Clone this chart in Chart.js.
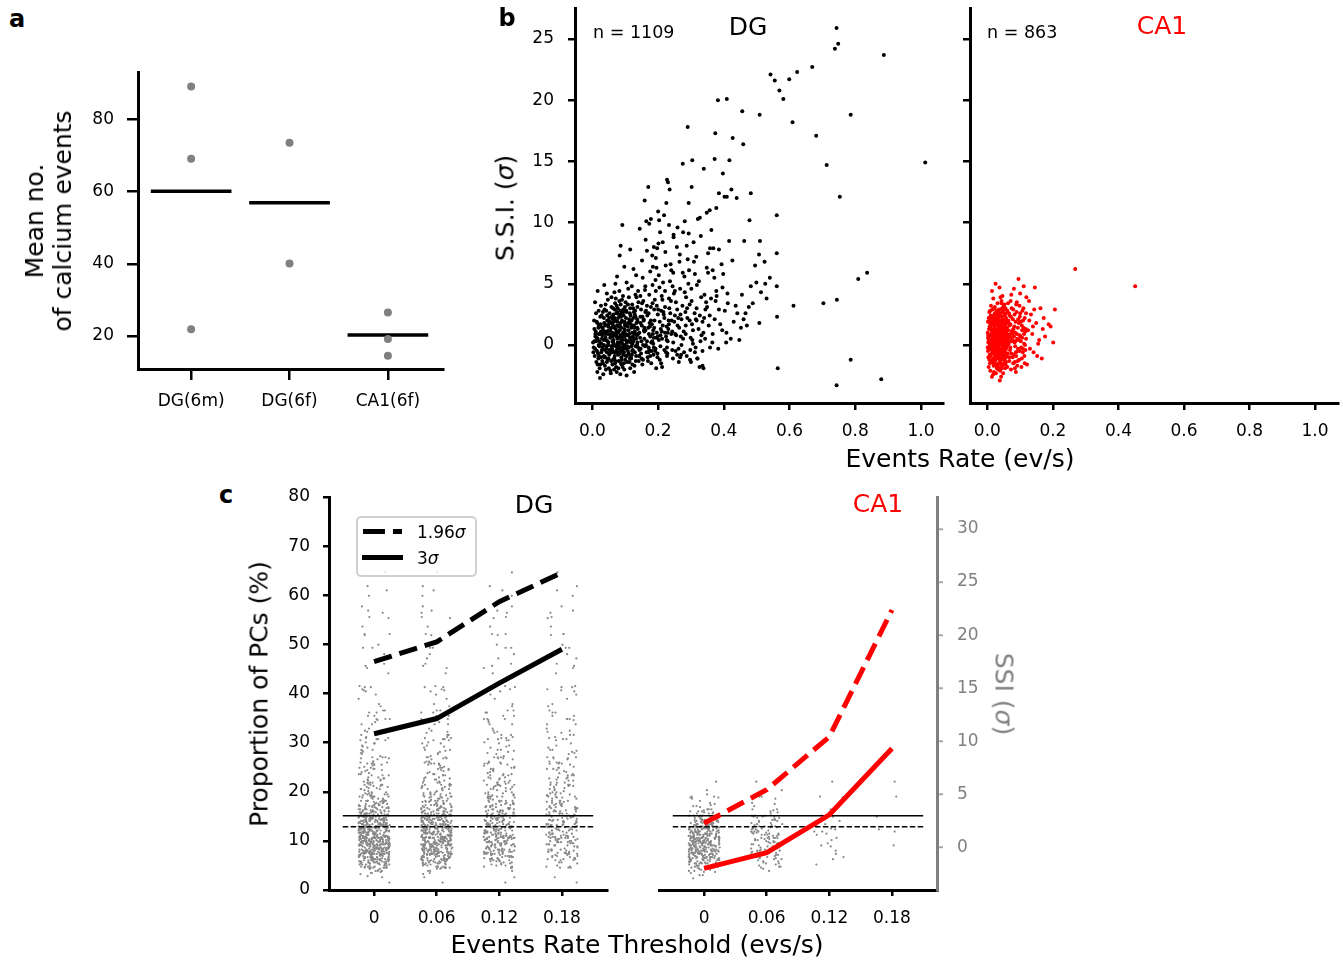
<!DOCTYPE html>
<html>
<head>
<meta charset="utf-8">
<script src="https://cdn.jsdelivr.net/npm/chart.js@4.4.1/dist/chart.umd.min.js"></script>
<style>
body { margin: 0; background: #fff; }
#fig { position: relative; width: 1343px; height: 960px; font-family: 'DejaVu Sans', sans-serif; color: #000; overflow: hidden; }
#fig canvas { position: absolute; }
.t { position: absolute; transform: translate(-50%, -50%); line-height: 1; white-space: nowrap; font-size: 25px; }
.l { position: absolute; transform: translate(0, -50%); line-height: 1; white-space: nowrap; font-size: 17.5px; }
.pl { font-weight: bold; font-size: 24px; }
.up { transform: translate(-50%, -50%) rotate(-90deg); }
.down { transform: translate(-50%, -50%) rotate(90deg); }
.bar { position: absolute; background: #000; height: 5px; }
</style>
</head>
<body>
<div id="fig">
  <canvas id="cA"></canvas>
  <canvas id="cB1"></canvas>
  <canvas id="cB2"></canvas>
  <canvas id="cC1"></canvas>
  <canvas id="cC2"></canvas>

  <div class="t pl" style="left:17px;top:19px">a</div>
  <div class="t pl" style="left:507px;top:18px">b</div>
  <div class="t pl" style="left:226px;top:495px">c</div>

  <div class="t up" style="left:49px;top:221px;line-height:28px;text-align:center">Mean no.<br>of calcium events</div>

  <div class="t" style="left:748px;top:26px">DG</div>
  <div class="t" style="left:1162px;top:25px;color:#f00">CA1</div>
  <div class="l" style="left:593px;top:33px">n = 1109</div>
  <div class="l" style="left:987px;top:33px">n = 863</div>
  <div class="t up" style="left:505px;top:208px">S.S.I. (<i>σ</i>)</div>
  <div class="t" style="left:960px;top:458px">Events Rate (ev/s)</div>

  <div class="t" style="left:534px;top:504px">DG</div>
  <div class="t" style="left:878px;top:503px;color:#f00">CA1</div>
  <div class="t up" style="left:259px;top:694px">Proportion of PCs (%)</div>
  <div class="t" style="left:637px;top:944px">Events Rate Threshold (evs/s)</div>
  <div class="t down" style="left:1004px;top:694px;color:#808080">SSI (<i>σ</i>)</div>

  <div style="position:absolute;left:356px;top:516px;width:117px;height:57px;border:2px solid #d0d0d0;border-radius:5px;background:rgba(255,255,255,0.8)"></div>
  <div class="bar" style="left:363px;top:529px;width:22px"></div>
  <div class="bar" style="left:393px;top:529px;width:9px"></div>
  <div class="bar" style="left:362px;top:555px;width:41px"></div>
  <div class="l" style="left:417px;top:532px;font-size:17px">1.96<i>σ</i></div>
  <div class="l" style="left:417px;top:558px;font-size:17px">3<i>σ</i></div>
</div>

<script>
// a - mean no. of calcium events per animal
const groupsA = ['DG(6m)', 'DG(6f)', 'CA1(6f)']
const animalsA = [[89.1, 69.1, 21.9], [73.5, 40.1], [26.5, 19.2, 14.5]]
const meansA = [60.1, 56.9, 20.3]
const yTicksA = [20, 40, 60, 80]

// b - events rate (ev/s) vs S.S.I. (sigma), one pair per cell
const rateTicks = [0, 0.2, 0.4, 0.6, 0.8, 1.0]
const rateLabels = ['0.0', '0.2', '0.4', '0.6', '0.8', '1.0']
const ssiTicksB = [0, 5, 10, 15, 20, 25]

const dgCells = [
  [0.004,-0.2],[0.031,1.4],[0.018,-1.1],[0.052,2.6],[0.009,0.7],[0.044,-0.6],[0.026,3.2],[0.061,0.3],[0.013,1.9],[0.038,-1.7],
  [0.022,0.9],[0.057,-1.3],[0.007,-0.9],[0.035,2.2],[0.049,0.0],[0.016,4.4],[0.029,-0.4],[0.042,1.1],[0.055,-2.1],[0.011,0.3],
  [0.033,-2.4],[0.047,3.7],[0.020,1.6],[0.002,0.2],[0.059,1.8],[0.024,-1.6],[0.040,0.6],[0.014,-0.5],[0.051,-0.8],[0.036,4.9],
  [0.027,0.1],[0.045,2.0],[0.006,1.3],[0.053,0.9],[0.019,2.8],[0.039,-1.0],[0.031,-0.2],[0.058,3.1],[0.012,-1.4],[0.048,1.5],
  [0.023,-2.7],[0.043,-0.3],[0.016,0.5],[0.034,1.0],[0.060,-0.6],[0.028,2.4],[0.050,-1.9],[0.008,3.5],[0.041,0.4],[0.017,-0.7],
  [0.054,1.2],[0.030,0.8],[0.046,-1.2],[0.021,-0.1],[0.037,2.9],[0.003,-0.6],[0.057,0.7],[0.025,1.7],[0.044,4.2],[0.015,-2.2],
  [0.032,-1.5],[0.052,-0.4],[0.010,1.1],[0.040,3.3],[0.026,-1.0],[0.048,0.2],[0.019,0.9],[0.059,2.3],[0.035,-0.9],[0.005,2.0],
  [0.064,0.4],[0.118,-1.1],[0.087,2.3],[0.135,0.8],[0.072,-1.8],[0.101,3.5],[0.093,-0.3],[0.126,1.6],[0.068,2.9],[0.110,-0.7],
  [0.079,1.0],[0.131,4.1],[0.097,-2.0],[0.062,-0.5],[0.122,0.1],[0.085,1.8],[0.106,-1.4],[0.075,5.6],[0.139,-0.2],[0.090,0.6],
  [0.114,2.6],[0.066,1.4],[0.128,-1.7],[0.083,-0.6],[0.099,1.2],[0.071,3.8],[0.117,0.4],[0.136,2.1],[0.088,-1.0],[0.104,-2.5],
  [0.077,0.2],[0.124,3.0],[0.095,0.9],[0.063,-1.2],[0.109,4.6],[0.081,2.5],[0.133,-0.9],[0.069,0.0],[0.113,1.9],[0.092,-0.4],
  [0.127,0.5],[0.074,-2.2],[0.102,2.2],[0.086,3.3],[0.138,1.3],[0.065,0.8],[0.119,-0.1],[0.096,-1.5],[0.080,1.5],[0.108,0.3],
  [0.070,2.0],[0.130,2.8],[0.091,0.1],[0.115,-1.9],[0.078,-0.8],[0.125,6.2],[0.100,1.7],[0.067,4.3],[0.121,1.0],[0.084,-0.2],
  [0.111,3.9],[0.094,2.7],[0.137,0.2],[0.073,1.1],[0.105,-0.9],[0.089,-1.6],[0.129,-0.6],[0.061,1.7],[0.116,2.4],[0.098,0.7],
  [0.082,3.6],[0.134,1.8],[0.076,0.5],[0.103,-0.3],[0.120,4.8],[0.088,1.4],[0.068,-0.6],[0.112,0.9],[0.093,4.0],[0.132,-1.3],
  [0.107,1.5],[0.071,-0.1],[0.126,2.7],[0.085,-2.4],[0.099,3.1],[0.064,2.5],[0.118,0.6],[0.080,-1.3],[0.140,3.5],[0.095,-0.8],
  [0.075,1.6],[0.123,-0.4],[0.090,2.0],[0.110,1.2],[0.066,-2.0],[0.136,0.0],[0.101,0.4],[0.083,7.3],[0.127,1.4],[0.097,6.4],
  [0.072,0.9],[0.114,-1.1],[0.087,0.3],[0.131,2.3],[0.104,5.1],[0.078,2.2],[0.121,3.3],[0.092,1.9],[0.069,-1.5],[0.108,-0.5],
  [0.086,8.1],[0.124,0.3],[0.063,3.0],[0.100,-1.2],[0.117,1.7],[0.081,0.1],[0.139,4.4],[0.094,-0.1],[0.074,3.2],[0.129,0.9],
  [0.103,2.8],[0.070,5.0],[0.115,7.8],[0.089,2.6],[0.133,5.7],[0.077,-0.3],[0.106,0.8],[0.122,-1.6],[0.091,9.8],[0.065,1.9],
  [0.047,0.9],[0.083,1.2],[0.121,-0.5],[0.016,-1.6],[0.062,2.1],[0.105,0.2],[0.158,1.4],[0.034,0.4],[0.092,-1.8],[0.137,3.1],
  [0.058,-0.1],[0.011,2.6],[0.074,0.7],[0.119,2.0],[0.041,-2.0],[0.099,1.6],[0.187,0.6],[0.026,1.1],[0.066,-1.1],[0.143,-0.4],
  [0.088,0.3],[0.052,1.9],[0.129,1.1],[0.019,0.0],[0.077,3.0],[0.113,-1.4],[0.171,2.6],[0.037,-1.0],[0.095,2.4],[0.061,-1.6],
  [0.149,0.3],[0.008,-0.3],[0.084,-0.7],[0.124,2.2],[0.045,2.4],[0.102,-0.9],[0.067,0.9],[0.196,3.2],[0.029,0.5],[0.133,0.5],
  [0.071,1.3],[0.056,-2.3],[0.109,1.8],[0.022,-1.9],[0.090,3.7],[0.154,-1.2],[0.039,1.6],[0.081,-0.1],[0.117,0.2],[0.064,0.0],
  [0.176,-0.9],[0.013,0.6],[0.098,0.0],[0.049,-1.1],[0.138,1.9],[0.073,2.6],[0.032,2.7],[0.111,-0.2],[0.086,0.8],[0.221,1.0],
  [0.054,0.6],[0.127,-2.2],[0.018,1.4],[0.093,1.0],[0.068,-0.9],[0.161,1.2],[0.043,-0.1],[0.104,2.7],[0.079,-1.9],[0.146,2.3],
  [0.027,-0.6],[0.065,1.5],[0.118,1.4],[0.036,1.8],[0.089,-1.2],[0.181,1.7],[0.058,3.9],[0.132,-0.1],[0.074,-0.4],[0.009,0.9],
  [0.101,0.9],[0.046,0.3],[0.123,0.7],[0.061,1.0],[0.209,2.8],[0.085,2.8],[0.024,2.3],[0.114,0.6],[0.050,1.2],[0.166,0.3],
  [0.038,-0.4],[0.096,-0.6],[0.070,-1.3],[0.141,-1.3],[0.015,1.8],[0.081,0.6],[0.108,3.3],[0.053,-0.7],[0.134,3.9],[0.030,-1.3],
  [0.076,1.9],[0.192,-0.3],[0.063,0.2],[0.120,-0.8],[0.042,2.8],[0.087,-0.4],[0.156,2.0],[0.021,0.3],[0.097,1.3],[0.069,3.4],
  [0.112,2.1],[0.035,0.0],[0.148,-0.7],[0.082,4.4],[0.057,1.4],[0.126,1.5],[0.006,0.3],[0.091,0.4],[0.044,-1.4],[0.173,-0.4],
  [0.067,2.2],[0.106,-0.1],[0.028,0.9],[0.139,0.9],[0.078,0.0],[0.051,2.2],[0.117,-0.9],[0.094,2.9],[0.184,0.9],[0.060,-0.3],
  [0.033,1.2],[0.129,2.5],[0.072,-0.6],[0.100,-0.2],[0.048,1.7],[0.160,-0.1],[0.083,1.6],[0.020,-0.9],[0.115,3.0],[0.062,0.7],
  [0.224,-0.6],[0.040,0.9],[0.098,1.9],[0.136,1.4],[0.075,2.7],[0.055,-0.5],[0.110,0.3],[0.025,1.5],[0.087,-1.5],[0.151,3.4],
  [0.145,0.6],[0.198,-1.0],[0.167,2.4],[0.231,1.3],[0.152,-1.6],[0.213,3.7],[0.179,0.2],[0.243,-0.4],[0.160,4.5],[0.205,1.9],
  [0.186,-0.8],[0.224,0.7],[0.148,2.9],[0.192,5.3],[0.171,-0.2],[0.237,2.6],[0.157,1.2],[0.209,-1.5],[0.183,3.4],[0.248,4.2],
  [0.163,0.0],[0.219,2.2],[0.142,-0.9],[0.196,1.0],[0.176,6.0],[0.228,-0.7],[0.155,3.6],[0.202,0.4],[0.189,2.0],[0.240,0.9],
  [0.169,-1.3],[0.215,5.1],[0.150,1.6],[0.181,-0.5],[0.234,3.0],[0.161,2.7],[0.207,-0.1],[0.193,7.1],[0.146,4.0],[0.226,1.5],
  [0.174,1.8],[0.245,-1.1],[0.158,0.5],[0.200,2.9],[0.185,0.1],[0.221,4.4],[0.165,-0.6],[0.211,1.1],[0.143,1.0],[0.238,6.6],
  [0.178,3.1],[0.194,-1.9],[0.153,5.5],[0.229,0.3],[0.172,0.9],[0.204,4.7],[0.188,1.4],[0.147,-0.3],[0.217,2.5],[0.162,8.6],
  [0.199,0.7],[0.241,2.0],[0.168,-1.0],[0.183,4.9],[0.227,-0.2],[0.156,2.1],[0.212,0.5],[0.191,-0.5],[0.233,3.8],[0.175,1.5],
  [0.151,6.9],[0.206,9.2],[0.164,10.1],[0.222,7.6],[0.187,8.0],[0.246,5.9],[0.170,12.9],[0.200,10.9],[0.144,9.5],[0.225,11.6],
  [0.182,7.3],[0.235,12.7],[0.159,11.8],[0.195,6.3],[0.214,8.4],[0.173,9.9],[0.230,13.3],[0.203,10.2],[0.247,9.0],[0.166,7.7],
  [0.152,2.3],[0.187,-0.2],[0.221,3.1],[0.264,1.4],[0.298,-0.4],[0.173,4.1],[0.246,0.2],[0.311,2.6],[0.205,-1.2],[0.338,1.0],
  [0.158,1.1],[0.232,2.0],[0.281,4.3],[0.195,0.6],[0.349,3.1],[0.267,-1.0],[0.214,1.6],[0.179,-1.5],[0.304,0.4],[0.254,3.5],
  [0.166,3.2],[0.289,2.2],[0.227,-0.9],[0.372,2.1],[0.199,2.5],[0.318,4.9],[0.243,1.1],[0.147,1.8],[0.276,0.5],[0.335,-0.5],
  [0.182,0.3],[0.258,2.9],[0.395,1.2],[0.211,4.0],[0.303,1.7],[0.171,-0.6],[0.236,5.2],[0.327,2.4],[0.262,-0.3],[0.190,3.7],
  [0.284,0.9],[0.154,0.0],[0.361,3.8],[0.219,-0.4],[0.296,3.3],[0.249,1.9],[0.178,2.0],[0.343,0.5],[0.207,0.8],[0.271,2.1],
  [0.314,-0.2],[0.163,2.8],[0.239,3.6],[0.385,2.9],[0.198,-0.7],[0.292,5.0],[0.226,0.4],[0.354,1.6],[0.185,1.2],[0.267,4.6],
  [0.323,1.3],[0.150,-1.1],[0.216,2.7],[0.279,-0.6],[0.408,1.0],[0.193,4.4],[0.252,0.9],[0.331,3.9],[0.170,1.4],[0.306,0.1],
  [0.233,1.7],[0.288,3.0],[0.202,5.7],[0.365,0.2],[0.258,-0.8],[0.176,0.7],[0.317,2.0],[0.244,4.8],[0.212,-1.8],[0.377,4.4],
  [0.269,0.7],[0.188,2.9],[0.340,2.2],[0.229,1.0],[0.297,-1.2],[0.161,4.8],[0.251,2.4],[0.312,5.8],[0.208,1.3],[0.284,1.6],
  [0.223,6.5],[0.266,7.4],[0.309,6.8],[0.184,6.4],[0.352,5.9],[0.247,8.8],[0.293,9.1],[0.197,7.9],[0.330,8.9],[0.275,5.9],
  [0.218,10.6],[0.259,9.6],[0.316,7.2],[0.240,6.1],[0.348,10.8],[0.201,8.3],[0.287,8.1],[0.233,9.8],[0.366,6.1],[0.178,10.3],
  [0.255,0.8],[0.312,-0.6],[0.274,3.2],[0.389,1.7],[0.263,-1.4],[0.341,4.1],[0.296,2.0],[0.421,0.5],[0.280,5.6],[0.358,-0.2],
  [0.306,1.2],[0.268,2.5],[0.375,3.6],[0.251,4.4],[0.329,0.3],[0.403,2.8],[0.287,-0.9],[0.348,6.3],[0.259,1.6],[0.317,3.0],
  [0.396,4.7],[0.271,0.0],[0.335,1.9],[0.290,7.0],[0.366,0.9],[0.253,-0.5],[0.301,4.6],[0.412,3.4],[0.278,1.1],[0.324,5.2],
  [0.357,2.4],[0.265,6.8],[0.383,-0.3],[0.299,0.6],[0.344,2.9],[0.430,1.9],[0.285,3.9],[0.319,-1.1],[0.261,2.2],[0.371,5.5],
  [0.338,-1.9],[0.308,8.4],[0.393,6.6],[0.276,9.2],[0.352,7.5],[0.416,8.5],[0.294,6.1],[0.362,9.4],[0.257,8.0],[0.327,10.4],
  [0.378,4.0],[0.283,2.7],[0.346,3.5],[0.407,0.2],[0.315,2.1],[0.270,-0.8],[0.398,5.8],[0.332,0.8],[0.302,3.6],[0.441,2.6],
  [0.281,10.1],[0.321,10.3],[0.357,11.0],[0.293,11.6],[0.377,11.2],[0.402,12.1],[0.385,12.4],[0.339,14.4],[0.423,12.7],[0.409,12.1],
  [0.326,-1.8],[0.335,-1.7],[0.320,-1.1],[0.300,-1.4],[0.411,4.2],[0.436,3.2],[0.368,7.9],[0.385,7.8],[0.358,7.9],[0.426,6.9],
  [0.462,8.5],[0.510,8.5],[0.478,10.2],[0.495,6.5],[0.524,6.8],[0.499,5.1],[0.526,5.0],[0.540,5.5],[0.530,3.8],[0.513,4.3],
  [0.476,3.1],[0.447,0.4],[0.466,2.6],[0.455,4.1],[0.470,1.6],[0.488,3.4],[0.460,2.1],[0.482,4.8],[0.507,7.4],[0.561,7.5],
  [0.561,4.8],[0.508,1.8],[0.562,2.3],[0.561,10.6],[0.459,16.4],[0.456,19.1],[0.509,18.8],[0.439,12.0],[0.482,12.4],[0.452,1.4],
  [0.743,25.9],[0.748,24.6],[0.738,24.2],[0.887,23.7],[0.669,22.7],[0.623,22.3],[0.599,21.7],[0.542,22.1],[0.555,21.6],[0.569,20.8],
  [0.581,20.1],[0.409,20.1],[0.382,20.0],[0.786,18.8],[0.609,18.2],[0.290,17.8],[0.374,17.3],[0.681,17.1],[0.427,16.9],[0.275,14.8],
  [0.304,15.1],[0.372,15.2],[0.417,15.1],[0.713,14.7],[1.013,14.9],[0.397,14.0],[0.227,13.5],[0.753,12.1],[0.836,5.9],[0.809,5.4],
  [0.612,3.2],[0.703,3.4],[0.744,3.7],[0.564,-1.9],[0.786,-1.2],[0.743,-3.3],[0.879,-2.8],[0.302,12.9]
]

const ca1Cells = [
  [0.003,0.2],[0.027,-1.1],[0.041,1.6],[0.012,0.9],[0.055,-0.4],[0.034,2.3],[0.019,-1.7],[0.048,0.5],[0.008,1.8],[0.038,-0.6],
  [0.023,3.1],[0.051,1.2],[0.015,-0.3],[0.044,-1.9],[0.030,0.7],[0.058,2.0],[0.006,-1.2],[0.036,1.4],[0.021,0.0],[0.047,2.7],
  [0.010,2.4],[0.032,-0.8],[0.053,0.1],[0.017,1.1],[0.043,3.6],[0.026,-2.3],[0.002,-0.5],[0.039,0.3],[0.057,-1.4],[0.014,4.4],
  [0.029,1.9],[0.050,-0.9],[0.005,1.3],[0.045,0.8],[0.020,-1.5],[0.035,2.9],[0.011,-0.1],[0.056,1.7],[0.024,0.6],[0.042,-2.6],
  [0.016,2.2],[0.037,0.0],[0.052,3.3],[0.004,-1.8],[0.031,1.0],[0.046,-0.2],[0.022,1.5],[0.059,0.4],[0.009,2.8],[0.040,-1.3],
  [0.028,-0.4],[0.054,2.5],[0.013,0.4],[0.033,-2.0],[0.049,1.9],[0.018,3.8],[0.044,-0.7],[0.001,1.0],[0.025,2.0],[0.057,-1.0],
  [0.035,0.9],[0.007,-0.8],[0.048,1.4],[0.019,0.2],[0.041,2.6],[0.030,-1.6],[0.053,0.6],[0.011,3.2],[0.027,-0.2],[0.046,4.0],
  [0.038,-2.9],[0.016,1.6],[0.051,-0.6],[0.023,2.6],[0.043,0.1],[0.004,2.2],[0.034,-0.9],[0.058,1.1],[0.020,-2.2],[0.031,3.4],
  [0.049,0.3],[0.012,-1.4],[0.039,1.2],[0.026,0.5],[0.055,3.0],[0.008,0.1],[0.045,-1.7],[0.017,2.0],[0.036,-0.3],[0.060,0.8],
  [0.021,1.3],[0.042,1.8],[0.003,-1.0],[0.032,2.1],[0.050,-1.2],[0.014,-0.7],[0.028,0.9],[0.047,0.0],[0.010,1.5],[0.037,4.7],
  [0.056,-0.1],[0.024,-1.3],[0.040,0.5],[0.006,2.7],[0.033,1.6],[0.052,1.0],[0.018,-0.4],[0.044,2.3],[0.029,-1.9],[0.013,1.9],
  [0.035,-1.5],[0.057,2.2],[0.022,0.3],[0.046,-0.5],[0.009,-2.1],[0.030,2.5],[0.042,-0.9],[0.015,0.7],[0.053,1.5],[0.025,5.0],
  [0.039,2.0],[0.002,0.6],[0.048,-2.3],[0.027,1.2],[0.019,-0.6],[0.054,0.2],[0.033,0.4],[0.011,-0.3],[0.043,1.1],[0.059,-0.7],
  [0.031,-0.1],[0.016,2.9],[0.050,0.9],[0.024,-0.9],[0.045,3.0],[0.007,0.3],[0.037,1.7],[0.020,1.0],[0.055,-1.6],[0.041,-0.4],
  [0.028,2.8],[0.012,1.2],[0.051,2.9],[0.034,0.0],[0.004,-0.3],[0.047,1.6],[0.023,-0.2],[0.038,-1.2],[0.058,-0.2],[0.017,-1.1],
  [0.043,0.6],[0.026,1.7],[0.009,0.8],[0.052,-1.5],[0.032,0.8],[0.014,-2.6],[0.040,3.9],[0.021,2.3],[0.049,-0.3],[0.035,1.3],
  [0.018,0.5],[0.042,-0.5],[0.007,1.5],[0.031,2.2],[0.055,0.7],[0.024,-1.2],[0.048,1.8],[0.013,-0.4],[0.037,0.2],[0.060,1.4],
  [0.021,2.5],[0.045,-1.1],[0.003,0.8],[0.029,-0.6],[0.052,2.4],[0.016,1.0],[0.039,-2.1],[0.011,0.0],[0.034,1.5],[0.057,-0.3],
  [0.026,0.4],[0.050,3.2],[0.008,-1.5],[0.041,0.9],[0.019,1.7],[0.036,-1.0],[0.053,-0.8],[0.014,2.3],[0.030,0.1],[0.047,-0.1],
  [0.022,-0.8],[0.044,1.2],[0.005,0.5],[0.033,2.7],[0.058,0.9],[0.027,-1.7],[0.049,0.2],[0.010,-0.9],[0.038,1.9],[0.017,-0.2],
  [0.054,-1.9],[0.025,1.3],[0.043,3.4],[0.002,1.9],[0.032,-0.4],[0.051,0.5],[0.020,0.7],[0.040,-0.7],[0.012,1.7],[0.056,2.6],
  [0.028,1.8],[0.046,0.6],[0.015,-1.3],[0.035,0.6],[0.059,-0.9],[0.023,0.9],[0.039,2.4],[0.006,-0.1],[0.048,-1.0],[0.031,0.3],
  [0.018,-2.4],[0.052,1.3],[0.036,1.1],[0.009,2.1],[0.044,0.0],[0.027,2.1],[0.054,-0.2],[0.013,0.2],[0.041,-1.5],[0.024,1.0],
  [0.033,-1.1],[0.050,2.0],[0.004,0.4],[0.037,-0.5],[0.020,3.0],[0.057,0.3],[0.029,0.6],[0.045,1.5],[0.016,-0.6],[0.034,1.9],
  [0.011,1.3],[0.047,-0.6],[0.026,-0.1],[0.042,2.9],[0.001,-0.2],[0.055,1.0],[0.030,-0.9],[0.019,1.9],[0.038,0.7],[0.053,-1.2],
  [0.023,-0.5],[0.049,1.0],[0.008,0.2],[0.035,-1.8],[0.058,1.9],[0.014,0.8],[0.043,0.4],[0.028,-0.3],[0.046,2.1],[0.021,-1.4],
  [0.064,0.5],[0.097,-1.2],[0.078,2.1],[0.112,0.9],[0.069,-0.4],[0.088,3.3],[0.105,1.6],[0.072,-2.0],[0.118,2.6],[0.083,0.2],
  [0.093,1.4],[0.061,2.8],[0.108,-0.6],[0.076,0.9],[0.100,4.2],[0.067,-1.3],[0.115,0.0],[0.086,1.9],[0.071,3.6],[0.103,-0.2],
  [0.080,-0.8],[0.095,5.4],[0.063,1.2],[0.110,3.0],[0.074,0.3],[0.091,-1.7],[0.117,1.3],[0.066,0.8],[0.099,2.3],[0.085,-0.1],
  [0.070,1.7],[0.106,0.6],[0.089,2.7],[0.062,-0.7],[0.114,-1.5],[0.081,4.6],[0.096,0.4],[0.077,-1.0],[0.102,1.9],[0.068,2.4],
  [0.092,-0.5],[0.119,3.9],[0.075,1.1],[0.087,-2.2],[0.109,2.0],[0.065,0.1],[0.098,3.2],[0.082,1.5],[0.113,-0.9],[0.073,4.1],
  [0.101,0.7],[0.079,2.9],[0.094,-0.3],[0.116,1.1],[0.068,1.6],[0.090,0.9],[0.107,2.8],[0.084,-1.4],[0.063,3.4],[0.111,4.8],
  [0.071,0.6],[0.088,-0.9],[0.065,1.8],[0.102,0.3],[0.079,-1.5],[0.094,2.1],[0.062,0.0],[0.110,1.4],[0.083,2.5],[0.070,-0.2],
  [0.098,-0.5],[0.076,1.2],[0.114,2.2],[0.067,-1.0],[0.091,0.5],[0.105,-1.1],[0.074,3.0],[0.085,1.0],[0.061,-1.8],[0.118,0.5],
  [0.096,1.8],[0.069,0.9],[0.108,-0.3],[0.081,0.7],[0.064,2.0],[0.100,2.6],[0.087,-0.6],[0.073,-0.7],[0.112,0.1],[0.090,3.5],
  [0.077,0.4],[0.106,1.2],[0.066,2.6],[0.093,-1.3],[0.080,1.3],[0.116,-0.4],[0.063,0.3],[0.099,0.8],[0.084,-1.9],[0.072,2.3],
  [0.086,0.3],[0.104,-1.8],
  [0.124,1.2],[0.141,-0.6],[0.133,2.5],[0.158,0.4],[0.127,3.6],[0.149,1.8],[0.166,-1.1],[0.137,0.9],[0.172,2.2],[0.121,-1.6],
  [0.145,4.7],[0.155,0.1],[0.130,-0.3],[0.162,3.0],[0.139,1.5],[0.176,0.7],[0.128,2.0],[0.152,-0.9],[0.169,1.3],[0.143,2.9],
  [0.187,1.7],[0.193,1.5],[0.201,0.2],[0.206,2.9],[0.268,6.2],[0.451,4.8]
]

// c - proportion of place cells (%) by events rate threshold
const thresholds = [0, 0.06, 0.12, 0.18]
const thrLabels = ['0', '0.06', '0.12', '0.18']
const propTicks = [0, 10, 20, 30, 40, 50, 60, 70, 80]
const ssiTicksC = [0, 5, 10, 15, 20, 25, 30]
const dgProp196 = [46.5, 50.5, 58.7, 64.6]
const dgProp3 = [31.8, 34.9, 42.1, 49.0]
const ca1Prop196 = [13.6, 20.4, 31.2, 57.0]
const ca1Prop3 = [4.4, 7.6, 15.3, 28.8]
const sigmaCut = [3, 1.96]

Chart.defaults.font.family = "'DejaVu Sans', sans-serif"
Chart.defaults.font.size = 17
Chart.defaults.color = '#000'

function axis(o) {
  const col = o.color || '#000'
  const shown = o.show !== false
  return {
    type: 'linear', position: o.pos, min: o.min, max: o.max, bounds: 'data',
    display: shown,
    afterBuildTicks: s => { s.ticks = o.ticks.map(v => ({ value: v })) },
    afterFit: s => {
      if (shown) {
        if (s.isHorizontal()) s.height = o.size; else s.width = o.size
      }
      // no extra room for labels hanging over the ends
      s.paddingTop = s.paddingBottom = s.paddingLeft = s.paddingRight = 0
    },
    ticks: {
      autoSkip: false, maxRotation: 0, minRotation: 0, padding: o.pad, color: col,
      callback: (v, i) => o.labels ? o.labels[i] : String(v)
    },
    grid: { drawOnChartArea: false, tickLength: o.tick, tickWidth: o.tickW || 2.5, tickColor: o.tickColor || col, lineWidth: 2.5 },
    border: { display: true, width: 3, color: col }
  }
}

// canvas placed so the plot area lands on the given pixel box
function build(id, area, m, pad, scales, datasets) {
  const c = document.getElementById(id)
  c.width = area.r - area.l + m.l + m.r
  c.height = area.b - area.t + m.t + m.b
  c.style.left = (area.l - m.l) + 'px'
  c.style.top = (area.t - m.t) + 'px'
  return new Chart(c, {
    type: 'scatter',
    data: { datasets },
    options: {
      responsive: false, animation: false, devicePixelRatio: 1, events: [],
      layout: { padding: pad, autoPadding: false },
      plugins: { legend: { display: false }, tooltip: { enabled: false } },
      scales
    }
  })
}

const dots = (data, color, r, yAxisID) => ({
  data, yAxisID: yAxisID || 'y', pointRadius: r, pointHoverRadius: r,
  pointBackgroundColor: color, backgroundColor: color, pointBorderWidth: 0, borderWidth: 0
})
const line = (data, color, w, dash, yAxisID) => ({
  data, yAxisID: yAxisID || 'y', showLine: true, borderColor: color, borderWidth: w,
  borderDash: dash || [], pointRadius: 0, pointHoverRadius: 0, tension: 0
})

// ---- a
build('cA', { l: 138, t: 72, r: 443, b: 369 }, { l: 80, t: 10, r: 10, b: 50 },
  { left: 0, top: 10, right: 10, bottom: 0 },
  {
    x: axis({ pos: 'bottom', min: -0.54, max: 2.56, ticks: [0, 1, 2], labels: groupsA, size: 50, tick: 11, pad: 11 }),
    y: axis({ pos: 'left', min: 10.86, max: 93.1, ticks: yTicksA, size: 80, tick: 11, pad: 13 })
  },
  [
    dots(animalsA.flatMap((vals, i) => vals.map(v => ({ x: i, y: v }))), '#808080', 4),
    ...meansA.map((m, i) => line([{ x: i - 0.41, y: m }, { x: i + 0.41, y: m }], '#000', 3.5))
  ])

// ---- b
const scB = (hideLabels, xMax) => ({
  x: axis({ pos: 'bottom', min: -0.053, max: xMax, ticks: rateTicks, labels: rateLabels, size: 50, tick: 7, pad: 11 }),
  y: axis({ pos: 'left', min: -4.74, max: 27.53, ticks: ssiTicksB, labels: hideLabels ? ssiTicksB.map(() => '') : null, size: hideLabels ? 20 : 70, tick: 7, pad: 14 })
})
build('cB1', { l: 575, t: 8, r: 943, b: 403 }, { l: 70, t: 8, r: 8, b: 50 },
  { left: 0, top: 8, right: 8, bottom: 0 }, scB(false, 1.067),
  [dots(dgCells.map(([r, s]) => ({ x: r, y: s })), '#000', 2)])
build('cB2', { l: 970, t: 8, r: 1338, b: 403 }, { l: 20, t: 8, r: 5, b: 50 },
  { left: 0, top: 8, right: 5, bottom: 0 }, scB(true, 1.07),
  [dots(ca1Cells.map(([r, s]) => ({ x: r, y: s })), '#f00', 2)])

// ---- c
// cells above each threshold, spread sideways by a fixed integer hash of their index
function spread(n) {
  n = Math.imul(n ^ (n >>> 16), 0x45d9f3b)
  n = Math.imul(n ^ (n >>> 16), 0x45d9f3b)
  n = n ^ (n >>> 16)
  return ((n >>> 0) / 4294967296 - 0.5) * 0.5
}
function strips(cells) {
  const pts = []
  thresholds.forEach((t, k) => {
    cells.forEach(([r, s], i) => {
      if (r >= t) pts.push({ x: k + spread(i * 4 + k + 7), y: s })
    })
  })
  return pts
}
const profile = vals => vals.map((v, k) => ({ x: k, y: v }))
const cutLines = () => [
  line([{ x: -0.5, y: sigmaCut[0] }, { x: 3.5, y: sigmaCut[0] }], '#000', 1.5, [], 'y2'),
  line([{ x: -0.5, y: sigmaCut[1] }, { x: 3.5, y: sigmaCut[1] }], '#000', 1.5, [5.5, 2.4], 'y2')
]
const scC = (dg) => ({
  x: axis({ pos: 'bottom', min: -0.72, max: 3.72, ticks: [0, 1, 2, 3], labels: thrLabels, size: 50, tick: 6, pad: 12 }),
  y: axis({ pos: 'left', min: 0, max: 80, ticks: propTicks, size: 70, tick: 6, pad: 13, show: dg }),
  y2: axis({ pos: 'right', min: -4, max: 33, ticks: ssiTicksC, size: 60, tick: 6, pad: 14, show: !dg,
    color: '#808080', tickColor: '#a8a8a8', tickW: 2 })
})
build('cC1', { l: 329, t: 497, r: 607, b: 890 }, { l: 70, t: 10, r: 10, b: 50 },
  { left: 0, top: 10, right: 10, bottom: 0 }, scC(true),
  [
    line(profile(dgProp196), '#000', 5, [18.5, 8]),
    line(profile(dgProp3), '#000', 5),
    ...cutLines(),
    dots(strips(dgCells), '#888', 1.1, 'y2')
  ])
build('cC2', { l: 659, t: 497, r: 937, b: 890 }, { l: 10, t: 10, r: 60, b: 50 },
  { left: 10, top: 10, right: 0, bottom: 0 }, scC(false),
  [
    line(profile(ca1Prop196), '#f00', 5, [18.5, 8]),
    line(profile(ca1Prop3), '#f00', 5),
    ...cutLines(),
    dots(strips(ca1Cells), '#888', 1.1, 'y2')
  ])
</script>
</body>
</html>
